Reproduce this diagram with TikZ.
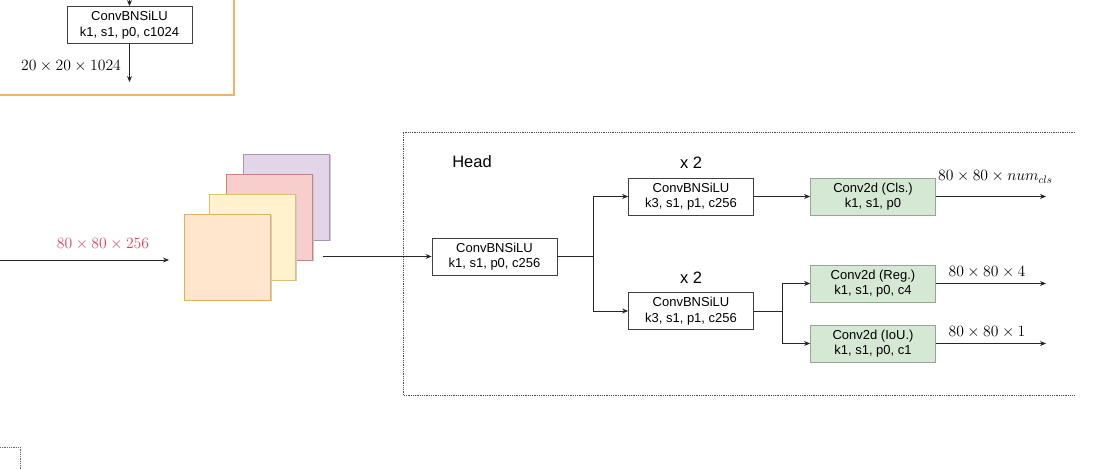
\documentclass[tikz,border=0pt]{standalone}
\usepackage{graphicx}
\usepackage{fontspec}
\newfontfamily\arial{Liberation Sans}
\usetikzlibrary{arrows.meta,positioning,calc,shadows}
\definecolor{FrameOrange}{RGB}{244,178,98}
\definecolor{LabelRed}{RGB}{226,68,92}
\definecolor{HeadGreen}{RGB}{213,232,212}
\definecolor{GreenLine}{RGB}{150,165,150}
\definecolor{SqOrange}{RGB}{255,230,204}
\definecolor{SqOrangeLine}{RGB}{222,178,92}
\definecolor{SqYellow}{RGB}{255,242,204}
\definecolor{SqYellowLine}{RGB}{220,192,110}
\definecolor{SqPink}{RGB}{248,206,204}
\definecolor{SqPinkLine}{RGB}{200,130,128}
\definecolor{SqPurple}{RGB}{225,213,231}
\definecolor{SqPurpleLine}{RGB}{170,150,180}
\newcommand{\dimsz}[1]{\scalebox{1.09}{$#1$}}
\tikzset{
  convbox/.style={rectangle,draw=black!75,fill=white,line width=0.8pt,
                  font=\arial\fontsize{13}{15.5}\selectfont,align=center,
                  minimum width=125pt,minimum height=37pt,inner sep=0pt},
  headbox/.style={convbox,draw=GreenLine,fill=HeadGreen},
  fmap/.style={rectangle,minimum size=86pt,inner sep=0pt,line width=0.8pt,
               general shadow={shadow xshift=1.5pt,shadow yshift=-1.5pt,fill=black!20}},
  dimtext/.style={font=\fontsize{14.4}{17}\selectfont,inner sep=0pt},
  bigtext/.style={font=\arial\fontsize{16.5}{19}\selectfont,inner sep=0pt},
  edge/.style={-{Stealth[length=6pt,width=5pt]},black!85,line width=0.8pt},
}

\begin{document}
\begin{tikzpicture}[x=1pt,y=-1pt]
  \useasboundingbox (0,0) rectangle (1117,470);
  \clip (0,0) rectangle (1117,470);
  % backbone tail
  \draw[FrameOrange,line width=1.4pt] (-20,-20) rectangle (234,95);
  \node[convbox] (c1024) at (129.5,25) {ConvBNSiLU\\k1, s1, p0, c1024};
  \coordinate (topin) at (129.5,-5);
  \coordinate (topout) at (129.5,82);
  \draw[edge] (topin) -- (c1024.north);
  \draw[edge] (c1024.south) -- (topout);
  \node[dimtext] (d1024) at (71,66) {\dimsz{20\times20\times1024}};
  %
  \draw[densely dotted,black!60,line width=0.8pt] (0,447) -- (20,447) -- (20,475);
  %
  % feature map input
  \coordinate (fin) at (0,260);
  \coordinate (fend) at (169,260);
  \draw[edge] (fin) -- (fend);
  \node[dimtext,text=LabelRed] (d256) at (103,244) {\dimsz{80\times80\times256}};
  \node[fmap,fill=SqPurple,draw=SqPurpleLine] (fm4) at (286.5,197) {};
  \node[fmap,fill=SqPink,draw=SqPinkLine] (fm3) at (269.5,217) {};
  \node[fmap,fill=SqYellow,draw=SqYellowLine] (fm2) at (252.5,237) {};
  \node[fmap,fill=SqOrange,draw=SqOrangeLine] (fm1) at (227,257) {};
  %
  % head
  \draw[densely dotted,black!70,line width=0.8pt] (1075,132) -- (403,132) -- (403,395) -- (1075,395);
  \node[bigtext] (headlbl) at (472,162) {Head};
  \coordinate (fout) at (323,256.5);
  \node[convbox] (conv1) at (494.5,256.5) {ConvBNSiLU\\k1, s1, p0, c256};
  \node[convbox] (convU) at (691,196.5) {ConvBNSiLU\\k3, s1, p1, c256};
  \node[convbox] (convL) at (691,311) {ConvBNSiLU\\k3, s1, p1, c256};
  \node[bigtext] (repU) at (691,163) {x 2};
  \node[bigtext] (repL) at (691,278) {x 2};
  \node[headbox] (cls) at (873,196.5) {Conv2d (Cls.)\\k1, s1, p0};
  \node[headbox] (reg) at (873,283.5) {Conv2d (Reg.)\\k1, s1, p0, c4};
  \node[headbox] (iou) at (873,343.5) {Conv2d (IoU.)\\k1, s1, p0, c1};
  \coordinate (split) at (593,256.5);
  \coordinate (split2) at (782,311);
  \draw[edge] (fout) -- (conv1.west);
  \draw[edge] (conv1.east) -- (split) |- (convU.west);
  \draw[edge] (split) |- (convL.west);
  \draw[edge] (convU.east) -- (cls.west);
  \draw[edge] (convL.east) -- (split2) |- (reg.west);
  \draw[edge] (split2) |- (iou.west);
  \coordinate (outcls) at (1046,196.5);
  \coordinate (outreg) at (1046,283.5);
  \coordinate (outiou) at (1046,343.5);
  \draw[edge] (cls.east) -- (outcls);
  \draw[edge] (reg.east) -- (outreg);
  \draw[edge] (iou.east) -- (outiou);
  \node[dimtext,anchor=west] (dcls) at (938,177) {\dimsz{80\times80\times num_{cls}}};
  \node[dimtext] (dreg) at (987,272) {\dimsz{80\times80\times4}};
  \node[dimtext] (diou) at (987,332) {\dimsz{80\times80\times1}};
\end{tikzpicture}
\end{document}
